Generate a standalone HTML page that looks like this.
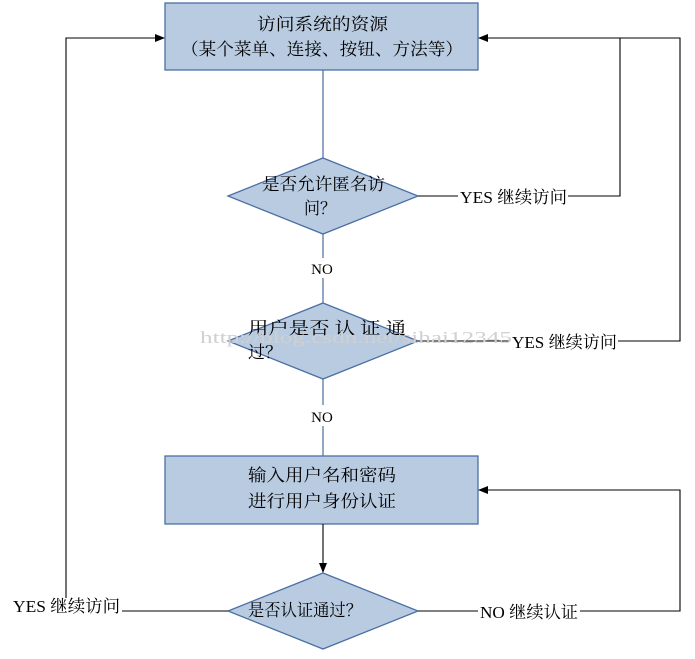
<!DOCTYPE html>
<html><head><meta charset="utf-8"><style>
body{margin:0;background:#fff;width:695px;height:654px;overflow:hidden}
svg text{font-family:"Liberation Serif","Noto Serif CJK SC","Noto Sans CJK SC",serif;font-size:17px;fill:#000}
</style></head><body>
<svg width="695" height="654" viewBox="0 0 695 654">
<defs><marker id="a" markerWidth="10" markerHeight="10" refX="9" refY="5" orient="auto" markerUnits="userSpaceOnUse"><path d="M0,1 L10,5 L0,9 z" fill="#000"/></marker></defs>
<g fill="#b9cbe0" stroke="#4a6fa5" stroke-width="1.3">
<rect x="165" y="3" width="313" height="67"/>
<rect x="165" y="456" width="313" height="68"/>
<polygon points="323,158 418,196 323,234 228,196"/>
<polygon points="323,303 418,341 323,379 228,341"/>
<polygon points="323,573 418,611 323,649 228,611"/>
</g>
<g stroke="#4a6fa5" stroke-width="1.2" fill="none">
<line x1="323" y1="70" x2="323" y2="158"/>
<line x1="323" y1="234" x2="323" y2="258"/>
<line x1="323" y1="278" x2="323" y2="303"/>
<line x1="323" y1="379" x2="323" y2="405"/>
<line x1="323" y1="426" x2="323" y2="456"/>
</g>
<g stroke="#000" stroke-width="1.1" fill="none">
<line x1="418" y1="196" x2="458" y2="196"/>
<polyline points="568,196 620,196 620,38 479,38" marker-end="url(#a)"/>
<line x1="418" y1="341" x2="510" y2="341"/>
<polyline points="618,341 680,341 680,38 620,38" />
<polyline points="228,611 122,611"/>
<polyline points="66,598 66,38 164,38" marker-end="url(#a)"/>
<line x1="418" y1="611" x2="478" y2="611"/>
<polyline points="580,611 680,611 680,490 479,490" marker-end="url(#a)"/>
<line x1="323" y1="524" x2="323" y2="572" marker-end="url(#a)"/>
</g>
<text x="257" y="30" textLength="131" lengthAdjust="spacingAndGlyphs">访问系统的资源</text>
<text x="181" y="55" textLength="282" lengthAdjust="spacingAndGlyphs">（某个菜单、连接、按钮、方法等）</text>
<text x="262" y="190" textLength="123" lengthAdjust="spacingAndGlyphs">是否允许匿名访</text>
<text x="304" y="214" textLength="32" lengthAdjust="spacingAndGlyphs">问？</text>
<text x="248" y="334" textLength="158" lengthAdjust="spacingAndGlyphs">用户是否 认 证 通</text>
<text x="248" y="358" textLength="34" lengthAdjust="spacingAndGlyphs">过？</text>
<text x="248" y="481" textLength="148" lengthAdjust="spacingAndGlyphs">输入用户名和密码</text>
<text x="248" y="507" textLength="148" lengthAdjust="spacingAndGlyphs">进行用户身份认证</text>
<text x="248" y="616" textLength="114" lengthAdjust="spacingAndGlyphs">是否认证通过？</text>
<text x="322" y="274" text-anchor="middle" style="font-size:15px">NO</text>
<text x="322" y="422" text-anchor="middle" style="font-size:15px">NO</text>
<text x="460" y="203" textLength="107" lengthAdjust="spacingAndGlyphs">YES 继续访问</text>
<text x="512" y="348" textLength="105" lengthAdjust="spacingAndGlyphs">YES 继续访问</text>
<text x="13" y="612" textLength="107" lengthAdjust="spacingAndGlyphs">YES 继续访问</text>
<text x="480" y="618" textLength="98" lengthAdjust="spacingAndGlyphs">NO 继续认证</text>
<text x="200" y="343" textLength="312" lengthAdjust="spacingAndGlyphs" style="fill:#d0d0d0;font-size:17px">http://blog.csdn.net/sihai12345</text>
</svg>
</body></html>
